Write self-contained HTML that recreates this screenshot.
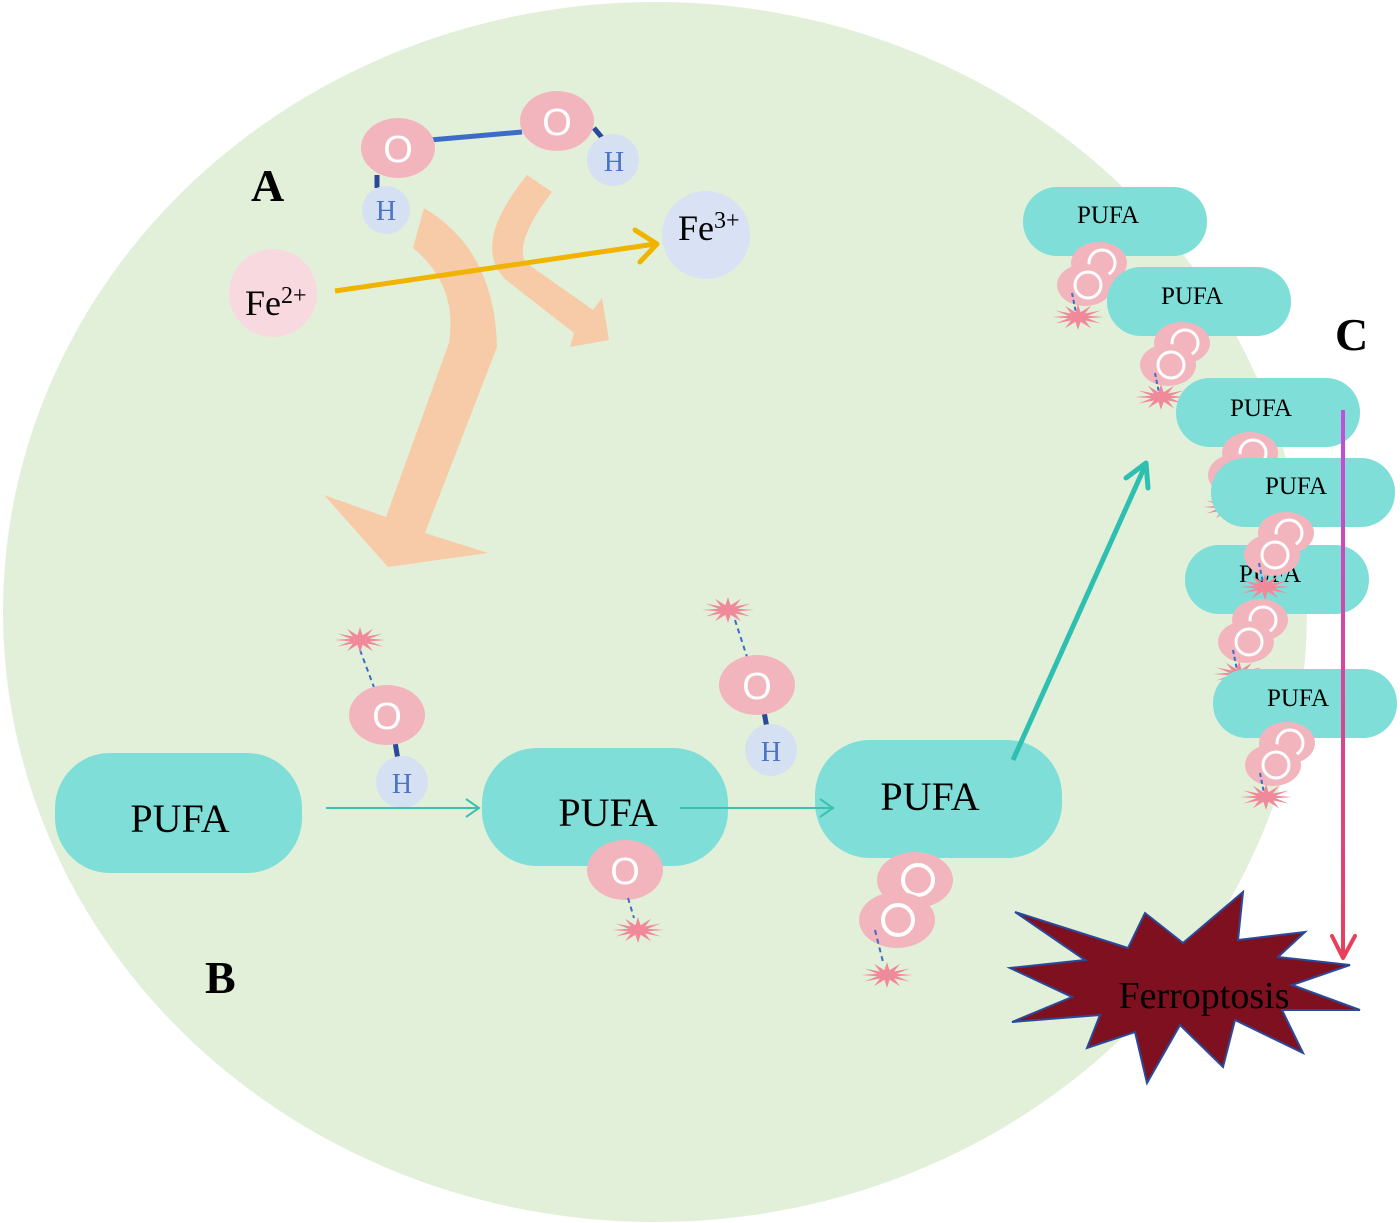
<!DOCTYPE html>
<html><head><meta charset="utf-8"><style>html,body{margin:0;padding:0;background:#fff}svg{display:block}</style></head>
<body>
<svg width="1400" height="1223" viewBox="0 0 1400 1223" xmlns="http://www.w3.org/2000/svg" font-family="'Liberation Serif', serif">
<defs>
<polygon id="st" fill="#f08a9a" points="26,0 9.7,1.3 22.5,6.5 7.1,3.5 13,11.3 2.6,4.8 0,13 -2.6,4.8 -13,11.3 -7.1,3.5 -22.5,6.5 -9.7,1.3 -26,0 -9.7,-1.3 -22.5,-6.5 -7.1,-3.5 -13,-11.3 -2.6,-4.8 0,-13 2.6,-4.8 13,-11.3 7.1,-3.5 22.5,-6.5 9.7,-1.3"/>
<g id="oo">
<ellipse cx="14" cy="-12" rx="28" ry="21" fill="#f3b5bd"/>
<circle cx="17" cy="-12" r="13" fill="none" stroke="#fff" stroke-width="3"/>
<ellipse cx="0" cy="10" rx="28" ry="21" fill="#f3b5bd"/>
<circle cx="3" cy="10" r="13" fill="none" stroke="#fff" stroke-width="3"/>
<line x1="-13" y1="18" x2="-9" y2="38" stroke="#3d6cc8" stroke-width="2" stroke-dasharray="4,3"/>
<use href="#st" x="-7" y="42"/>
</g>
<linearGradient id="mg" gradientUnits="userSpaceOnUse" x1="0" y1="410" x2="0" y2="958"><stop offset="0" stop-color="#c04ee0"/><stop offset="1" stop-color="#e8405a"/></linearGradient>
</defs>
<ellipse cx="655" cy="612" rx="652" ry="610" fill="#e2f0d9"/>

<!-- orange arrows -->
<path fill="#f7cba8" d="M424,208 Q495,250 497,347 L425,533 L488,553 L388,567 L324,495 L386,517 L449,343 Q458,285 413,248 Z"/>
<path fill="#f7cba8" d="M527,175 L552,192 Q515,240 525,262 L593,310 L602,298 L609,340 L570,347 L574,333 L506,280 Q470,245 527,175 Z"/>

<!-- top molecule -->
<line x1="430" y1="140" x2="522" y2="132" stroke="#3d6cc8" stroke-width="5"/>
<line x1="377" y1="175" x2="377" y2="188" stroke="#2a4a99" stroke-width="5"/>
<line x1="594" y1="128" x2="604" y2="140" stroke="#2a4a99" stroke-width="5"/>
<ellipse cx="398" cy="148" rx="37" ry="30" fill="#f3b5bd"/>
<ellipse cx="557" cy="121" rx="37" ry="30" fill="#f3b5bd"/>
<text x="398" y="162" font-family="'Liberation Sans',sans-serif" font-size="38" fill="#fff" text-anchor="middle">O</text>
<text x="557" y="135" font-family="'Liberation Sans',sans-serif" font-size="38" fill="#fff" text-anchor="middle">O</text>
<circle cx="386" cy="210" r="24" fill="#d6e0f3"/>
<circle cx="613" cy="160" r="26" fill="#d6e0f3"/>
<text x="386" y="220" font-size="28" fill="#4a74c8" text-anchor="middle">H</text>
<text x="614" y="171" font-size="28" fill="#4a74c8" text-anchor="middle">H</text>

<circle cx="273" cy="293" r="44" fill="#f9d9e0"/>
<circle cx="706" cy="235" r="44" fill="#d9e1f4"/>
<text x="245" y="315" font-size="36">Fe<tspan font-size="24" dy="-12">2+</tspan></text>
<text x="678" y="240" font-size="36">Fe<tspan font-size="24" dy="-12">3+</tspan></text>
<line x1="335" y1="291" x2="655" y2="244" stroke="#f0b400" stroke-width="5"/>
<polyline points="635,230 657,244 640,262" fill="none" stroke="#f0b400" stroke-width="5" stroke-linecap="round" stroke-linejoin="round"/>

<text x="251" y="201" font-size="46" font-weight="bold">A</text>
<text x="205" y="993" font-size="46" font-weight="bold">B</text>
<text x="1335" y="350" font-size="46" font-weight="bold">C</text>

<!-- middle OH molecules -->
<line x1="360" y1="650" x2="375" y2="690" stroke="#3d6cc8" stroke-width="2" stroke-dasharray="5,4"/>
<line x1="395" y1="742" x2="398" y2="760" stroke="#2a4a99" stroke-width="5"/>
<use href="#st" x="360" y="640"/>
<ellipse cx="387" cy="715" rx="38" ry="30" fill="#f3b5bd"/>
<text x="387" y="729" font-family="'Liberation Sans',sans-serif" font-size="38" fill="#fff" text-anchor="middle">O</text>
<circle cx="402" cy="782" r="26" fill="#d6e0f3"/>
<text x="402" y="793" font-size="28" fill="#4a74c8" text-anchor="middle">H</text>

<line x1="735" y1="620" x2="748" y2="660" stroke="#3d6cc8" stroke-width="2" stroke-dasharray="5,4"/>
<line x1="764" y1="712" x2="767" y2="728" stroke="#2a4a99" stroke-width="5"/>
<use href="#st" x="728" y="610"/>
<ellipse cx="757" cy="685" rx="38" ry="30" fill="#f3b5bd"/>
<text x="757" y="699" font-family="'Liberation Sans',sans-serif" font-size="38" fill="#fff" text-anchor="middle">O</text>
<circle cx="771" cy="750" r="26" fill="#d6e0f3"/>
<text x="771" y="761" font-size="28" fill="#4a74c8" text-anchor="middle">H</text>

<!-- main PUFA boxes -->
<rect x="55" y="753" width="247" height="120" rx="55" fill="#7fdfd8"/>
<text x="180" y="832" font-size="40" text-anchor="middle">PUFA</text>
<line x1="326" y1="808" x2="478" y2="808" stroke="#3cc0b0" stroke-width="2"/>
<polyline points="466,799 479,808 466,817" fill="none" stroke="#3cc0b0" stroke-width="2"/>
<rect x="482" y="748" width="246" height="118" rx="55" fill="#7fdfd8"/>
<text x="608" y="826" font-size="40" text-anchor="middle">PUFA</text>
<ellipse cx="625" cy="870" rx="38" ry="30" fill="#f3b5bd"/>
<text x="625" y="884" font-family="'Liberation Sans',sans-serif" font-size="38" fill="#fff" text-anchor="middle">O</text>
<line x1="628" y1="898" x2="634" y2="918" stroke="#3d6cc8" stroke-width="2" stroke-dasharray="5,4"/>
<use href="#st" x="638" y="930"/>

<rect x="815" y="740" width="247" height="118" rx="55" fill="#7fdfd8"/>
<text x="930" y="810" font-size="40" text-anchor="middle">PUFA</text>
<line x1="680" y1="808" x2="832" y2="808" stroke="#3cc0b0" stroke-width="2"/>
<polyline points="820,799 833,808 820,817" fill="none" stroke="#3cc0b0" stroke-width="2"/>
<ellipse cx="915" cy="880" rx="38" ry="28" fill="#f3b5bd"/>
<circle cx="918" cy="880" r="15" fill="none" stroke="#fff" stroke-width="4"/>
<ellipse cx="897" cy="920" rx="38" ry="28" fill="#f3b5bd"/>
<circle cx="898" cy="920" r="15" fill="none" stroke="#fff" stroke-width="4"/>
<line x1="875" y1="930" x2="883" y2="962" stroke="#3d6cc8" stroke-width="2" stroke-dasharray="5,4"/>
<use href="#st" x="887" y="975"/>
<line x1="1013" y1="760" x2="1145" y2="466" stroke="#2ebfb0" stroke-width="5"/>
<polyline points="1126,478 1146,463 1148,488" fill="none" stroke="#2ebfb0" stroke-width="5" stroke-linecap="round" stroke-linejoin="round"/>

<!-- stack C -->
<rect x="1023" y="187" width="184" height="69" rx="34" fill="#7fdfd8"/>
<text x="1108" y="223" font-size="25" text-anchor="middle">PUFA</text>
<use href="#oo" x="1085" y="275"/>
<rect x="1107" y="267" width="184" height="69" rx="34" fill="#7fdfd8"/>
<text x="1192" y="304" font-size="25" text-anchor="middle">PUFA</text>
<use href="#oo" x="1168" y="355"/>
<rect x="1176" y="378" width="184" height="69" rx="34" fill="#7fdfd8"/>
<text x="1261" y="416" font-size="25" text-anchor="middle">PUFA</text>
<use href="#oo" x="1236" y="465"/>
<rect x="1211" y="458" width="184" height="69" rx="34" fill="#7fdfd8"/>
<text x="1296" y="494" font-size="25" text-anchor="middle">PUFA</text>
<rect x="1185" y="545" width="184" height="69" rx="34" fill="#7fdfd8"/>
<text x="1270" y="582" font-size="25" text-anchor="middle">PUFA</text>
<use href="#oo" x="1272" y="545"/>
<use href="#oo" x="1246" y="632"/>
<rect x="1213" y="669" width="184" height="69" rx="34" fill="#7fdfd8"/>
<text x="1298" y="706" font-size="25" text-anchor="middle">PUFA</text>
<use href="#oo" x="1273" y="755"/>

<line x1="1343" y1="410" x2="1343" y2="958" stroke="url(#mg)" stroke-width="4"/>
<polyline points="1332,936 1343,958 1355,936" fill="none" stroke="#e8405a" stroke-width="4" stroke-linecap="round" stroke-linejoin="round"/>

<!-- Ferroptosis -->
<polygon fill="#7f1020" stroke="#2a4a99" stroke-width="2" stroke-linejoin="miter" points="1015,912 1128,948 1145,913 1183,943 1243,892 1238,940 1305,932 1278,957 1350,965 1292,985 1360,1010 1282,1010 1303,1053 1235,1020 1223,1067 1180,1025 1147,1083 1135,1032 1087,1048 1100,1015 1012,1022 1072,997 1010,968 1085,960"/>
<text x="1204" y="1008" font-size="38" text-anchor="middle" fill="#000">Ferroptosis</text>
</svg>
</body></html>
